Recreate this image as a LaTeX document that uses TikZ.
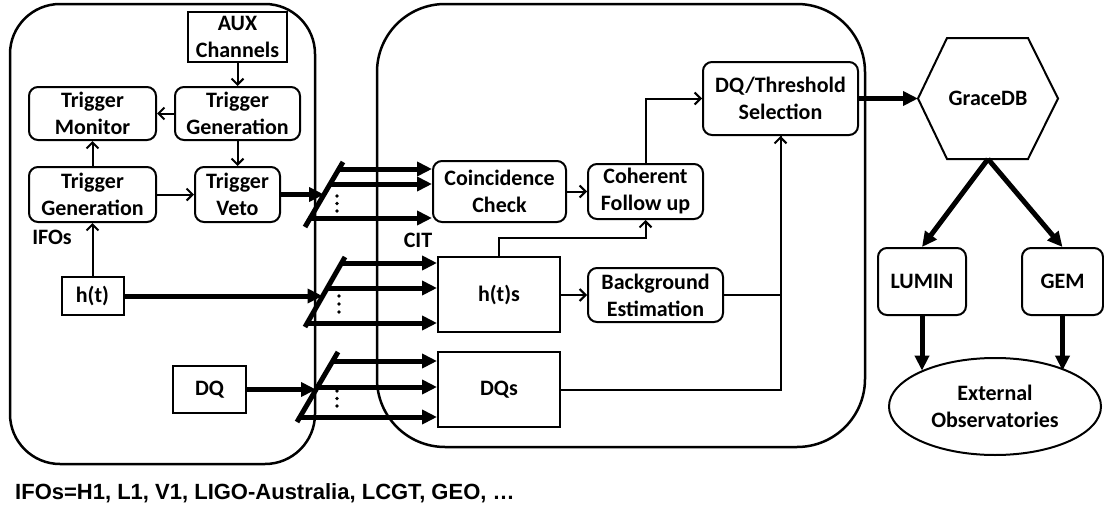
\documentclass[tikz,border=0pt]{standalone}
\usepackage{fontspec}
\setmainfont{Carlito}
\newfontfamily\arialfont{Liberation Sans}
\usetikzlibrary{arrows.meta,shapes.geometric,calc}
\begin{document}
\begin{tikzpicture}[x=1pt,y=-1pt,
  txt/.style={font=\bfseries\fontsize{22}{27}\selectfont},
  box/.style={draw,line width=2pt,rounded corners=9pt,align=center,inner sep=0pt,txt},
  sqbox/.style={box,rounded corners=0pt},
  lbl/.style={inner sep=0pt,txt},
  thinarr/.style={line width=2pt,-{Straight Barb[length=6pt,width=12pt]}},
  thinln/.style={line width=2pt},
  thickarr/.style={line width=5pt,-{Triangle[length=15pt,width=14pt]}},
  splitter/.style={line width=5pt},
  region/.style={draw,line width=2.5pt}
]
\useasboundingbox (0,0) rectangle (1104,506);

% regions
\draw[region,rounded corners=50pt] (10,4) rectangle (315,464);
\draw[region,rounded corners=68pt] (377,4) rectangle (865,447);

% IFO side
\node[sqbox,minimum width=99pt,minimum height=50pt] (aux) at (237.5,37) {AUX\\Channels};
\node[box,minimum width=125pt,minimum height=53pt] (tgtop) at (237.5,113.5) {Trigger\\Generation};
\node[box,minimum width=127pt,minimum height=53pt] (tmon) at (92.5,113.5) {Trigger\\Monitor};
\node[box,minimum width=127pt,minimum height=55pt] (tglow) at (92.5,194.5) {Trigger\\Generation};
\node[box,minimum width=85pt,minimum height=55pt] (veto) at (237.5,194.5) {Trigger\\Veto};
\node[lbl] (ifos) at (52,237) {IFOs};
\node[sqbox,minimum width=62pt,minimum height=38pt] (ht) at (92.5,296) {h(t)};
\node[sqbox,minimum width=73pt,minimum height=47pt] (dq) at (209.5,389.5) {DQ};

% CIT side
\node[box,minimum width=133pt,minimum height=61pt] (coinc) at (499.5,191.5) {Coincidence\\Check};
\node[box,minimum width=115pt,minimum height=55pt] (coh) at (645.5,191.5) {Coherent\\Follow up};
\node[box,minimum width=155pt,minimum height=73pt] (dqth) at (780.5,98.5) {DQ/Threshold\\Selection};
\node[sqbox,minimum width=122pt,minimum height=75pt] (hts) at (499,294.5) {h(t)s};
\node[box,minimum width=135pt,minimum height=54pt] (bg) at (655.5,295) {Background\\Estimation};
\node[sqbox,minimum width=122pt,minimum height=75pt] (dqs) at (499,389.5) {DQs};
\node[lbl] (cit) at (418,240) {CIT};

% external: GraceDB hexagon
\node[lbl] (grace) at (988,98.5) {GraceDB};
\coordinate (gW) at (918,98.5);
\coordinate (gTL) at (947,38);
\coordinate (gTR) at (1028,38);
\coordinate (gE) at (1058,98.5);
\coordinate (gBR) at (1028,159);
\coordinate (gBL) at (947,159);
\coordinate (gS) at (988,159);
\draw[line width=2pt,line join=miter] (gW) -- (gTL) -- (gTR) -- (gE) -- (gBR) -- (gBL) -- cycle;

\node[box,minimum width=88pt,minimum height=67pt] (lumin) at (922,281.5) {LUMIN};
\node[box,minimum width=81pt,minimum height=67pt] (gem) at (1062.5,281.5) {GEM};
\node[draw,ellipse,line width=2pt,minimum width=212pt,minimum height=97pt,inner sep=0pt,align=center,txt] (ext) at (995,406.5) {External\\Observatories};

\node[anchor=base west,inner sep=0pt,font=\arialfont\bfseries\fontsize{22}{26}\selectfont] (foot) at (15,499) {IFOs=H1, L1, V1, LIGO-Australia, LCGT, GEO, …};

% thin connectors (IFO)
\draw[thinarr] (aux.south) -- (tgtop.north);
\draw[thinarr] (tgtop.west) -- (tmon.east);
\draw[thinarr] (tgtop.south) -- (veto.north);
\draw[thinarr] (tglow.north) -- (tmon.south);
\draw[thinarr] (tglow.east) -- (veto.west);
\draw[thinarr] (ht.north) -- (tglow.south);

% splitter coordinates
\coordinate (s1b) at (305,227); \coordinate (s1t) at (343,162);
\coordinate (s1i) at (324,194.5);
\coordinate (s1a) at (339,169); \coordinate (s1c) at (330,184); \coordinate (s1d) at (310,218);
\coordinate (s2b) at (305,327); \coordinate (s2t) at (345,257);
\coordinate (s2i) at (322.5,296);
\coordinate (s2a) at (342,263); \coordinate (s2c) at (327,288); \coordinate (s2d) at (307,323);
\coordinate (s3b) at (297,422); \coordinate (s3t) at (338,352);
\coordinate (s3i) at (316,389.5);
\coordinate (s3a) at (333,361); \coordinate (s3c) at (317.5,387); \coordinate (s3d) at (300,417);

% thick inputs
\draw[thickarr] (veto.east) -- (s1i);
\draw[thickarr] (ht.east) -- (s2i);
\draw[thickarr] (dq.east) -- (s3i);

% splitters
\draw[splitter] (s1b) -- (s1t);
\draw[splitter] (s2b) -- (s2t);
\draw[splitter] (s3b) -- (s3t);

% thick outputs
\foreach \p in {s1a,s1c,s1d} \draw[thickarr] (\p) -- (\p -| coinc.west);
\foreach \p in {s2a,s2c,s2d} \draw[thickarr] (\p) -- (\p -| hts.west);
\foreach \p in {s3a,s3c,s3d} \draw[thickarr] (\p) -- (\p -| dqs.west);

% dots
\foreach \x/\y in {337/196,337/203.5,337/211,339/296,339/304,339/312,337/391,337/398.5,337/406}
  \fill (\x,\y) circle (1.8pt);

% thin connectors (CIT)
\draw[thinarr] (coinc.east) -- (coh.west);
\draw[thinarr] (coh.north) |- (dqth.west);
\coordinate (j1) at (645.5,238);
\draw[thinarr] (hts.north) |- (j1) -- (coh.south);
\draw[thinarr] (hts.east |- bg.west) -- (bg.west);
\draw[thinln] (bg.east) -| (dqth.south);
\draw[thinarr] (dqs.east) -| (dqth.south);

% thick external
\draw[thickarr] (dqth.east) -- (gW);
\draw[thickarr] (gS) -- (lumin.north);
\draw[thickarr] (gS) -- (gem.north);
\draw[thickarr] (lumin.south) -- (lumin.south |- ext.154);
\draw[thickarr] (gem.south) -- (gem.south |- ext.26);
\end{tikzpicture}
\end{document}
